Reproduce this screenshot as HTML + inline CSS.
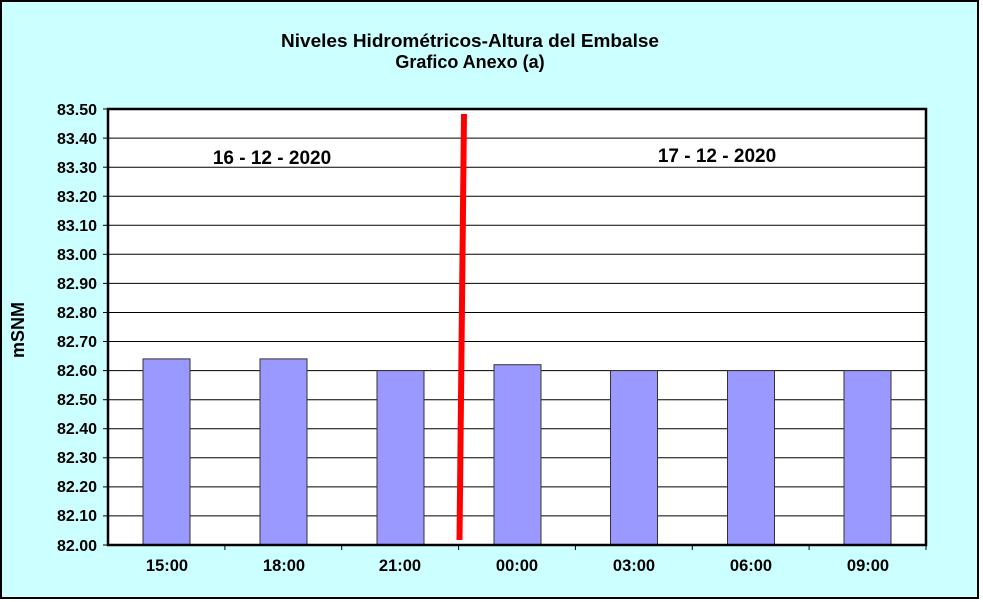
<!DOCTYPE html>
<html><head><meta charset="utf-8"><style>
html,body{margin:0;padding:0;background:#fff}
svg{display:block;font-family:"Liberation Sans",Arial,sans-serif;font-weight:bold}
</style></head><body>
<svg width="983" height="602" viewBox="0 0 983 602" xmlns="http://www.w3.org/2000/svg">
<rect x="0" y="0" width="983" height="602" fill="#fff"/>
<rect x="1" y="1" width="977" height="597" fill="#CCFFFF" stroke="#000" stroke-width="2"/>
<text x="470" y="47" font-size="18" text-anchor="middle" textLength="378" lengthAdjust="spacingAndGlyphs">Niveles Hidrométricos-Altura del Embalse</text>
<text x="470" y="68" font-size="18" text-anchor="middle">Grafico Anexo (a)</text>
<rect x="108" y="109" width="818" height="436" fill="#fff"/>
<g stroke="#000" stroke-width="1">
<line x1="108" x2="926" y1="138.1" y2="138.1"/><line x1="108" x2="926" y1="167.2" y2="167.2"/>
<line x1="108" x2="926" y1="196.2" y2="196.2"/><line x1="108" x2="926" y1="225.3" y2="225.3"/>
<line x1="108" x2="926" y1="254.3" y2="254.3"/><line x1="108" x2="926" y1="283.4" y2="283.4"/>
<line x1="108" x2="926" y1="312.5" y2="312.5"/><line x1="108" x2="926" y1="341.5" y2="341.5"/>
<line x1="108" x2="926" y1="370.6" y2="370.6"/><line x1="108" x2="926" y1="399.7" y2="399.7"/>
<line x1="108" x2="926" y1="428.7" y2="428.7"/><line x1="108" x2="926" y1="457.8" y2="457.8"/>
<line x1="108" x2="926" y1="486.9" y2="486.9"/><line x1="108" x2="926" y1="515.9" y2="515.9"/>
</g>
<g stroke="#000" stroke-width="1">
<line x1="103" x2="108" y1="109" y2="109"/><line x1="103" x2="108" y1="138.1" y2="138.1"/><line x1="103" x2="108" y1="167.2" y2="167.2"/><line x1="103" x2="108" y1="196.2" y2="196.2"/><line x1="103" x2="108" y1="225.3" y2="225.3"/><line x1="103" x2="108" y1="254.3" y2="254.3"/><line x1="103" x2="108" y1="283.4" y2="283.4"/><line x1="103" x2="108" y1="312.5" y2="312.5"/><line x1="103" x2="108" y1="341.5" y2="341.5"/><line x1="103" x2="108" y1="370.6" y2="370.6"/><line x1="103" x2="108" y1="399.7" y2="399.7"/><line x1="103" x2="108" y1="428.7" y2="428.7"/><line x1="103" x2="108" y1="457.8" y2="457.8"/><line x1="103" x2="108" y1="486.9" y2="486.9"/><line x1="103" x2="108" y1="515.9" y2="515.9"/><line x1="103" x2="108" y1="545" y2="545"/>
<line x1="224.9" x2="224.9" y1="545" y2="550"/><line x1="341.7" x2="341.7" y1="545" y2="550"/><line x1="458.6" x2="458.6" y1="545" y2="550"/><line x1="575.4" x2="575.4" y1="545" y2="550"/><line x1="692.3" x2="692.3" y1="545" y2="550"/><line x1="809.1" x2="809.1" y1="545" y2="550"/><line x1="926" x2="926" y1="545" y2="550"/>
</g>
<g fill="#9999FF" stroke="#333" stroke-width="1">
<rect x="143" y="358.9" width="47" height="186.1"/>
<rect x="260" y="358.9" width="47" height="186.1"/>
<rect x="377" y="370.6" width="47" height="174.4"/>
<rect x="494" y="364.7" width="47" height="180.3"/>
<rect x="610.5" y="370.6" width="47" height="174.4"/>
<rect x="727.5" y="370.6" width="47" height="174.4"/>
<rect x="844" y="370.6" width="47" height="174.4"/>
</g>
<rect x="108" y="109" width="818" height="436" fill="none" stroke="#000" stroke-width="2.5"/>
<line x1="464" y1="114" x2="459.5" y2="540" stroke="#FF0000" stroke-width="6"/>
<g font-size="16" text-anchor="end">
<text x="97" y="115">83.50</text><text x="97" y="144">83.40</text><text x="97" y="173">83.30</text><text x="97" y="202">83.20</text><text x="97" y="231">83.10</text><text x="97" y="260">83.00</text><text x="97" y="289">82.90</text><text x="97" y="318">82.80</text><text x="97" y="347">82.70</text><text x="97" y="376">82.60</text><text x="97" y="405">82.50</text><text x="97" y="434">82.40</text><text x="97" y="463">82.30</text><text x="97" y="492">82.20</text><text x="97" y="521">82.10</text><text x="97" y="551">82.00</text>
</g>
<g font-size="16.5" text-anchor="middle">
<text x="167" y="571">15:00</text><text x="284" y="571">18:00</text><text x="400" y="571">21:00</text><text x="517" y="571">00:00</text><text x="634" y="571">03:00</text><text x="751" y="571">06:00</text><text x="868" y="571">09:00</text>
</g>
<text x="272" y="164" font-size="19" text-anchor="middle">16 - 12 - 2020</text>
<text x="717" y="162" font-size="19" text-anchor="middle">17 - 12 - 2020</text>
<text transform="translate(24,330) rotate(-90)" font-size="18" text-anchor="middle">mSNM</text>
</svg>
</body></html>
